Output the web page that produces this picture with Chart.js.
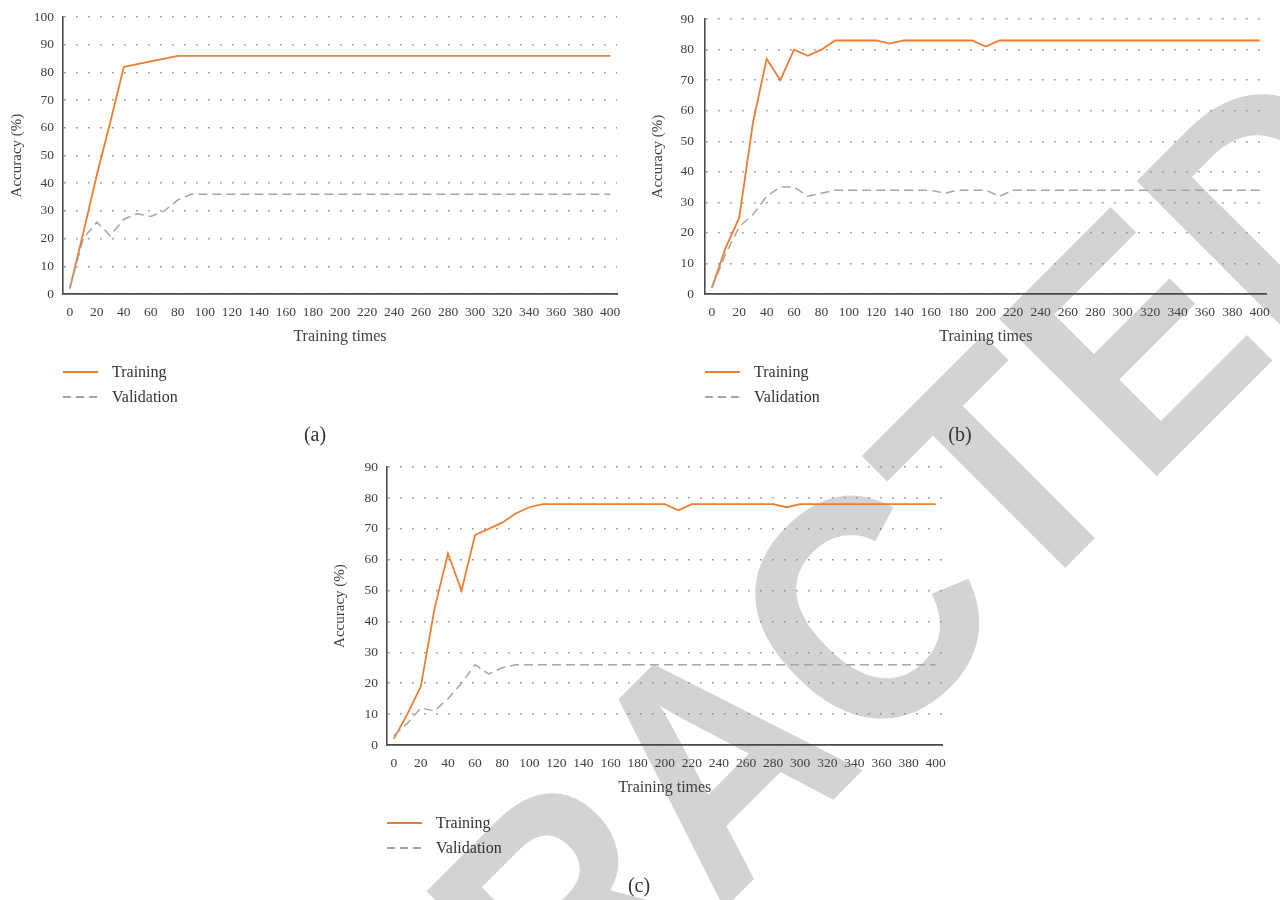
<!DOCTYPE html>
<html>
<head>
<meta charset="utf-8">
<script src="https://cdn.jsdelivr.net/npm/chart.js@4.4.0/dist/chart.umd.min.js"></script>
<style>
  html, body { margin: 0; padding: 0; background: #fff; }
  body { width: 1280px; height: 900px; position: relative; overflow: hidden; font-family: 'Liberation Serif', serif; color: #333; }
  #watermark { position: absolute; left: 0; top: 0; z-index: 0; }
  .chart { position: absolute; z-index: 1; }
  .legend { position: absolute; z-index: 1; font-size: 16px; }
  .legend div { display: flex; align-items: center; height: 25px; }
  .swatch { width: 35px; margin-right: 14px; }
  .solid { height: 2px; background: #ED7D31; }
  .dashed { height: 1.5px; background: repeating-linear-gradient(to right, #A5A5A5 0 8px, transparent 8px 13px); }
  .caption { position: absolute; z-index: 1; font-size: 20px; transform: translate(-50%, -50%); }
</style>
</head>
<body>
<canvas id="watermark" width="1280" height="900"></canvas>

<canvas id="chart-a" class="chart" width="640" height="350" style="left:0;top:0"></canvas>
<canvas id="chart-b" class="chart" width="640" height="350" style="left:640px;top:0"></canvas>
<canvas id="chart-c" class="chart" width="640" height="360" style="left:320px;top:450px"></canvas>

<div class="legend" style="left:63px;top:359.5px">
  <div><span class="swatch solid"></span>Training</div>
  <div><span class="swatch dashed"></span>Validation</div>
</div>
<div class="legend" style="left:705px;top:359.5px">
  <div><span class="swatch solid"></span>Training</div>
  <div><span class="swatch dashed"></span>Validation</div>
</div>
<div class="legend" style="left:387px;top:810.5px">
  <div><span class="swatch solid"></span>Training</div>
  <div><span class="swatch dashed"></span>Validation</div>
</div>

<div class="caption" style="left:315px;top:434px">(a)</div>
<div class="caption" style="left:960px;top:434px">(b)</div>
<div class="caption" style="left:639px;top:885px">(c)</div>

<script>
const trainingTimes = [
  0, 10, 20, 30, 40, 50, 60, 70, 80, 90,
  100, 110, 120, 130, 140, 150, 160, 170, 180, 190,
  200, 210, 220, 230, 240, 250, 260, 270, 280, 290,
  300, 310, 320, 330, 340, 350, 360, 370, 380, 390,
  400
];

const trainingA = [
  2, 22, 43, 62, 82, 83, 84, 85, 86, 86,
  86, 86, 86, 86, 86, 86, 86, 86, 86, 86,
  86, 86, 86, 86, 86, 86, 86, 86, 86, 86,
  86, 86, 86, 86, 86, 86, 86, 86, 86, 86,
  86
];
const validationA = [
  2, 20, 26, 21, 27, 29, 28, 30, 34, 36,
  36, 36, 36, 36, 36, 36, 36, 36, 36, 36,
  36, 36, 36, 36, 36, 36, 36, 36, 36, 36,
  36, 36, 36, 36, 36, 36, 36, 36, 36, 36,
  36
];

const trainingB = [
  2, 15, 25, 56, 77, 70, 80, 78, 80, 83,
  83, 83, 83, 82, 83, 83, 83, 83, 83, 83,
  81, 83, 83, 83, 83, 83, 83, 83, 83, 83,
  83, 83, 83, 83, 83, 83, 83, 83, 83, 83,
  83
];
const validationB = [
  2, 13, 22, 26, 32, 35, 35, 32, 33, 34,
  34, 34, 34, 34, 34, 34, 34, 33, 34, 34,
  34, 32, 34, 34, 34, 34, 34, 34, 34, 34,
  34, 34, 34, 34, 34, 34, 34, 34, 34, 34,
  34
];

const trainingC = [
  2, 10, 19, 44, 62, 50, 68, 70, 72, 75,
  77, 78, 78, 78, 78, 78, 78, 78, 78, 78,
  78, 76, 78, 78, 78, 78, 78, 78, 78, 77,
  78, 78, 78, 78, 78, 78, 78, 78, 78, 78,
  78
];
const validationC = [
  3, 7, 12, 11, 15, 20, 26, 23, 25, 26,
  26, 26, 26, 26, 26, 26, 26, 26, 26, 26,
  26, 26, 26, 26, 26, 26, 26, 26, 26, 26,
  26, 26, 26, 26, 26, 26, 26, 26, 26, 26,
  26
];

const TEXT = '#404040';
const AXIS = '#4a4a4a';

function drawWatermark() {
  const ctx = document.getElementById('watermark').getContext('2d');
  const size = 324;
  ctx.font = 'bold ' + size + 'px "Liberation Sans", Arial, sans-serif';
  const before = ctx.measureText('RETRAC').width;
  ctx.save();
  ctx.translate(1017, 616);       // baseline origin of the second "T"
  ctx.rotate(-Math.PI / 4);
  ctx.scale(0.9, 1);              // the stamp lettering is a bit narrower
  ctx.fillStyle = '#d3d3d3';
  ctx.fillText('RETRACTED', -before, 0);
  ctx.restore();
}

// g: padding / axis sizes so the plot area lands where it sits in the figure
function makeChart(id, training, validation, yMax, g) {
  const ctx = document.getElementById(id).getContext('2d');
  return new Chart(ctx, {
    type: 'line',
    data: {
      labels: trainingTimes,
      datasets: [
        {
          label: 'Training',
          data: training,
          borderColor: '#ED7D31',
          borderWidth: 1.8,
          pointRadius: 0,
          tension: 0,
          order: 1
        },
        {
          label: 'Validation',
          data: validation,
          borderColor: '#A5A5A5',
          borderWidth: 1.5,
          borderDash: [9, 5],
          pointRadius: 0,
          tension: 0,
          order: 0
        }
      ]
    },
    options: {
      responsive: false,
      animation: false,
      layout: { padding: { left: 0, top: g.top, right: g.right, bottom: g.bottom } },
      plugins: { legend: { display: false }, tooltip: { enabled: false } },
      scales: {
        x: {
          type: 'category',
          offset: true,
          grid: { display: false, drawTicks: false },
          border: { display: true, color: AXIS, width: 1.8 },
          ticks: {
            autoSkip: false,
            maxRotation: 0,
            padding: 10,
            color: TEXT,
            font: { family: 'Liberation Serif', size: 13.5 },
            callback: function (val, index) {
              return index % 2 === 0 ? this.getLabelForValue(val) : '';
            }
          },
          title: {
            display: true,
            text: 'Training times',
            color: TEXT,
            padding: { top: 0, bottom: 0 },
            font: { family: 'Liberation Serif', size: 16 }
          },
          afterFit: scale => { scale.height = 52; }
        },
        y: {
          min: 0,
          max: yMax,
          ticks: {
            stepSize: 10,
            padding: g.tickPad,
            color: TEXT,
            font: { family: 'Liberation Serif', size: 13.5 }
          },
          grid: { color: '#8a8a8a', lineWidth: 1.5, drawTicks: false },
          border: { display: true, color: AXIS, width: 1.6, dash: [1.5, 10.5], dashOffset: -0.5 },
          title: {
            display: true,
            text: 'Accuracy (%)',
            color: TEXT,
            padding: { top: g.titlePad, bottom: 0 },
            font: { family: 'Liberation Serif', size: 15 }
          },
          afterFit: scale => { scale.width = g.yWidth; }
        }
      }
    }
  });
}

drawWatermark();
makeChart('chart-a', trainingA, validationA, 100, { top: 13, right: 23, bottom: 4, yWidth: 63, tickPad: 9, titlePad: 8 });
makeChart('chart-b', trainingB, validationB, 90, { top: 13, right: 13, bottom: 4, yWidth: 65, tickPad: 11, titlePad: 9 });
makeChart('chart-c', trainingC, validationC, 90, { top: 17, right: 17.5, bottom: 13, yWidth: 67, tickPad: 9, titlePad: 11 });
</script>
</body>
</html>
